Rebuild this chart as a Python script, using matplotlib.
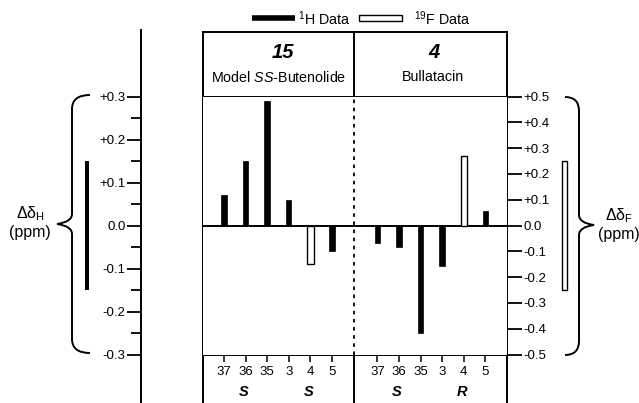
#! /usr/bin/env python3

"""Delta-delta chemical shift bars: model SS-butenolide (15) vs bullatacin (4)"""

import matplotlib
matplotlib.use("Agg")
import matplotlib.pyplot as plt
from matplotlib.path import Path
from matplotlib.patches import PathPatch, Rectangle
from matplotlib.lines import Line2D

plt.rcParams['font.family'] = ['Liberation Sans', 'DejaVu Sans']
plt.rcParams['mathtext.fontset'] = 'custom'
plt.rcParams['mathtext.rm'] = 'Liberation Sans'
plt.rcParams['mathtext.it'] = 'Liberation Sans:italic'
plt.rcParams['mathtext.bf'] = 'Liberation Sans:bold:italic'

# data
carbons = ["37", "36", "35", "3", "4", "5"]
# model SS-butenolide (15): 1H shifts for 37,36,35,3,5 and 19F for 4
model_h = [0.07, 0.15, 0.29, 0.06, None, -0.06]
model_f = [None, None, None, None, -0.15, None]
# bullatacin (4)
bull_h = [-0.04, -0.05, -0.25, -0.095, None, 0.033]
bull_f = [None, None, None, None, 0.27, None]
config_left = ["S", "S"]
config_right = ["S", "R"]
h_ticks = [0.3, 0.2, 0.1, 0.0, -0.1, -0.2, -0.3]
f_ticks = [0.5, 0.4, 0.3, 0.2, 0.1, 0.0, -0.1, -0.2, -0.3, -0.4, -0.5]
h_key = 0.15   # half length of the 1H scale bar
f_key = 0.25   # half length of the 19F scale bar

W, H = 639, 403
fig = plt.figure(figsize=(W / 100, H / 100), dpi=100)


def rect(x0, y0, x1, y1):
    # pixel box (y measured from top) -> figure fraction
    return [x0 / W, 1 - y1 / H, (x1 - x0) / W, (y1 - y0) / H]


top, bot = 96.5, 354.5
left_x, right_x, mid_x = 203, 507, 354

# main panel
ax = fig.add_axes(rect(left_x, top, right_x, bot))
axf = ax.twinx()
ax.set_ylim(-0.3, 0.3)
axf.set_ylim(-0.5, 0.5)

offset = 7.1
pos_left = list(range(6))
pos_right = [p + offset for p in pos_left]
ax.set_xlim(-0.97, 13.1)

hw, fw = 0.25, 0.29
for pos, hv, fv in [(pos_left, model_h, model_f), (pos_right, bull_h, bull_f)]:
    for p, h in zip(pos, hv):
        if h is not None:
            ax.bar(p, h, width=hw, color="black", edgecolor="black", linewidth=0.5)
    for p, f in zip(pos, fv):
        if f is not None:
            axf.bar(p, f, width=fw, color="white", edgecolor="black", linewidth=1.0)

ax.axhline(0, color="black", lw=1.4)
ax.axvline((mid_x - 224) / 21.6, color="black", lw=1.3, ls=(0, (2, 2.5)))

for a in (ax, axf):
    for s in a.spines.values():
        s.set_visible(False)
ax.set_yticks([])
axf.set_yticks(f_ticks)
axf.set_yticklabels(["%+.1f" % v if v != 0 else "0.0" for v in f_ticks])
axf.tick_params(axis="y", direction="out", length=11, width=1.3, pad=1, labelsize=9.5)

ax.set_xticks(pos_left + pos_right)
ax.set_xticklabels(carbons + carbons)
ax.tick_params(axis="x", direction="out", length=5, width=1.1, pad=3, labelsize=9.5)

# S / R labels under carbons 36 and 4
for pos, cfg in [(pos_left, config_left), (pos_right, config_right)]:
    for p, c in zip([pos[1] - 0.1, pos[4] - 0.1], cfg):
        ax.text(p, -0.3 - 0.6 * 37 / 258, c, ha="center", va="center",
                fontsize=10.5, fontweight="bold", style="italic")

# left 1H scale axis
axh = fig.add_axes(rect(141, top, 203, bot))
axh.set_ylim(-0.3, 0.3)
axh.set_xticks([])
for k, s in axh.spines.items():
    s.set_visible(False)
axh.set_yticks(h_ticks)
axh.set_yticklabels(["%+.1f" % v if v != 0 else "0.0" for v in h_ticks])
axh.set_yticks([0.25, 0.15, 0.05, -0.05, -0.15, -0.25], minor=True)
axh.tick_params(axis="y", which="major", direction="out", length=10, width=1.3, pad=1, labelsize=9.5)
axh.tick_params(axis="y", which="minor", direction="out", length=7, width=1.3)
axh.patch.set_visible(False)

# scale key bars
axkh = fig.add_axes(rect(0, top, 141, bot))
axkh.set_xlim(0, 141)
axkh.set_ylim(-0.3, 0.3)
axkh.axis("off")
axkh.bar(87, 2 * h_key, bottom=-h_key, width=4, color="black")

axkf = fig.add_axes(rect(507, top, 639, bot))
axkf.set_xlim(507, 639)
axkf.set_ylim(-0.5, 0.5)
axkf.axis("off")
axkf.bar(564, 2 * f_key, bottom=-f_key, width=5, color="white", edgecolor="black", lw=1.0)

# overlay for frame, braces and labels (pixel coordinates)
ov = fig.add_axes([0, 0, 1, 1], zorder=-1)
ov.set_xlim(0, W)
ov.set_ylim(H, 0)
ov.axis("off")

lw = 1.4
segs = [
    ((141, 141), (30, 403)),
    ((left_x, left_x), (31.5, 403)),
    ((right_x, right_x), (31.5, 403)),
    ((left_x, right_x), (31.5, 31.5)),
    ((left_x, right_x), (top, top)),
    ((left_x, right_x), (bot, bot)),
    ((mid_x, mid_x), (31.5, top)),
    ((mid_x, mid_x), (bot, 403)),
]
for xs, ys in segs:
    ov.add_line(Line2D(xs, ys, color="black", lw=lw))


def brace(x_end, x_line, x_tip, y0, y1, ym):
    verts = [(x_end, y0), (x_line, y0), (x_line, y0 + 14), (x_line, y0 + 14),
             (x_line, ym - 10), (x_line, ym - 10),
             (x_line, ym - 2), (x_tip, ym),
             (x_line, ym + 2), (x_line, ym + 10),
             (x_line, ym + 10), (x_line, y1 - 14),
             (x_line, y1 - 14), (x_line, y1), (x_end, y1)]
    codes = [Path.MOVETO, Path.CURVE3, Path.CURVE3, Path.LINETO,
             Path.LINETO, Path.LINETO,
             Path.CURVE3, Path.CURVE3,
             Path.CURVE3, Path.CURVE3,
             Path.LINETO, Path.LINETO,
             Path.LINETO, Path.CURVE3, Path.CURVE3]
    ov.add_patch(PathPatch(Path(verts, codes), fill=False, lw=1.4, color="black"))


brace(90, 72, 57, 95, 353, 224)
brace(565, 579, 594, 97, 355, 225)

ov.text(30, 214, r"Δδ$_\mathrm{H}$", ha="center", va="center", fontsize=11.5)
ov.text(30, 233, "(ppm)", ha="center", va="center", fontsize=11.5)
ov.text(619, 216, r"Δδ$_\mathrm{F}$", ha="center", va="center", fontsize=11.5)
ov.text(619, 235, "(ppm)", ha="center", va="center", fontsize=11.5)

# headers
ov.text(283, 52, "15", ha="center", va="center", fontsize=14.5, fontweight="bold", style="italic")
ov.text(279, 77, r"Model $\mathit{SS}$-Butenolide", ha="center", va="center", fontsize=10.3)
ov.text(434, 52, "4", ha="center", va="center", fontsize=14.5, fontweight="bold", style="italic")
ov.text(433, 77, "Bullatacin", ha="center", va="center", fontsize=10.3)

# legend
ov.add_line(Line2D((252, 295), (18, 18), color="black", lw=4, solid_capstyle="butt"))
ov.text(298, 19, r"$^{1}$H Data", ha="left", va="center", fontsize=10.3)
ov.add_patch(Rectangle((359, 15), 43, 6, facecolor="white", edgecolor="black", lw=1.0))
ov.text(414, 19, r"$^{19}$F Data", ha="left", va="center", fontsize=10.3)

fig.savefig("out.png", dpi=100)
